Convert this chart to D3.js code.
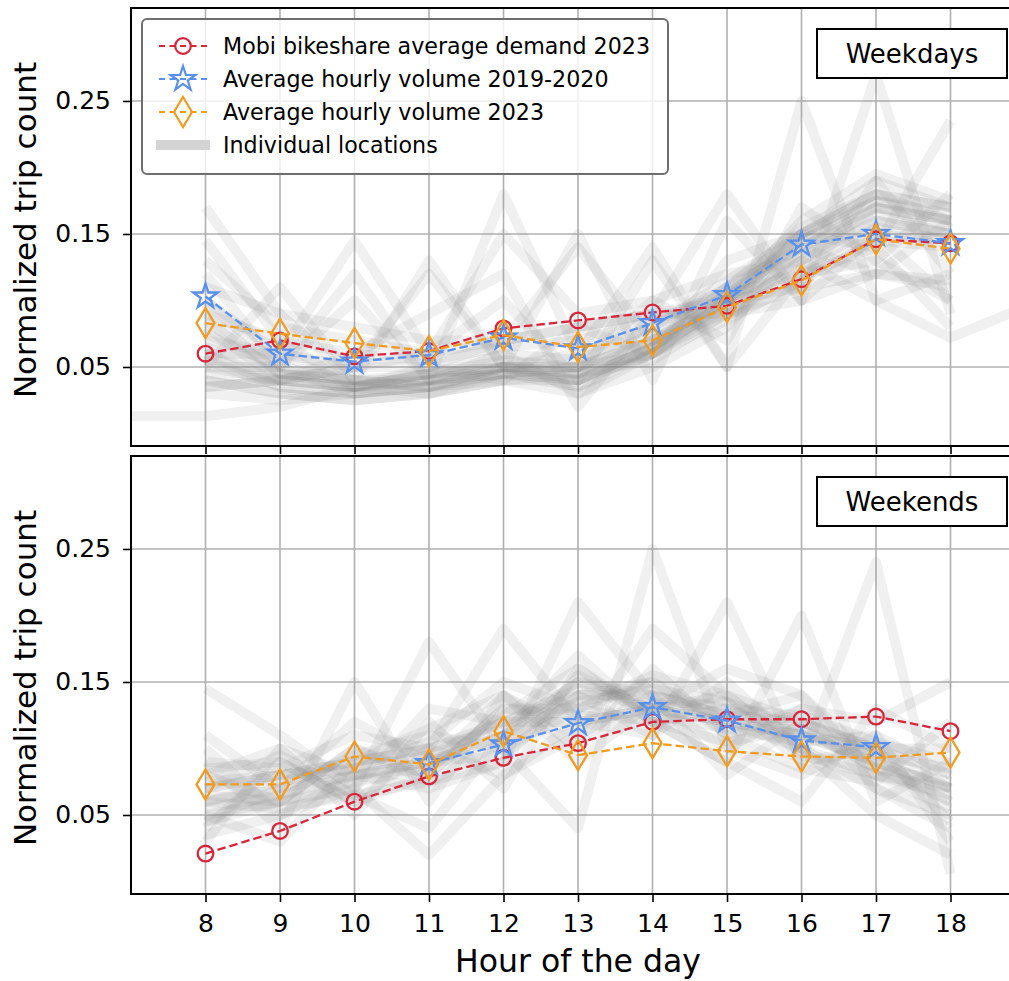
<!DOCTYPE html>
<html>
<head>
<meta charset="utf-8">
<script src="https://cdn.jsdelivr.net/npm/d3@7"></script>
<style>
  body { margin: 0; background: #fff; }
  svg { display: block; font-family: "DejaVu Sans", sans-serif; }
</style>
</head>
<body>
<svg id="chart" width="1009" height="981"></svg>
<script>
// ---- data ----
const hours = [8, 9, 10, 11, 12, 13, 14, 15, 16, 17, 18];
const locHours = [7, 8, 9, 10, 11, 12, 13, 14, 15, 16, 17, 18, 19];
const yTicks = [0.05, 0.15, 0.25];

// weekdays averages
const wdMobi = [0.060, 0.070, 0.058, 0.062, 0.079, 0.085, 0.091, 0.096, 0.116, 0.146, 0.143];
const wdVol1920 = [0.103, 0.060, 0.054, 0.059, 0.072, 0.064, 0.083, 0.104, 0.142, 0.150, 0.143];
const wdVol2023 = [0.083, 0.075, 0.068, 0.062, 0.074, 0.065, 0.070, 0.095, 0.115, 0.146, 0.139];

// weekends averages
const weMobi = [0.021, 0.038, 0.060, 0.079, 0.093, 0.104, 0.120, 0.122, 0.122, 0.124, 0.113];
const weVol1920 = [null, null, null, 0.089, 0.103, 0.119, 0.131, 0.121, 0.106, 0.101, null];
const weVol2023 = [0.073, 0.073, 0.094, 0.088, 0.113, 0.095, 0.104, 0.098, 0.094, 0.093, 0.097];

// individual locations (hours 7..19, null = no value)
const wdLocations = [
  [null, 0.170, 0.090, 0.040, 0.035, 0.045, 0.040, 0.060, 0.100, 0.130, 0.170, 0.160, null],
  [null, 0.145, 0.070, 0.035, 0.030, 0.040, 0.045, 0.055, 0.090, 0.130, 0.160, 0.150, null],
  [null, 0.120, 0.050, 0.030, 0.035, 0.050, 0.040, 0.065, 0.105, 0.140, 0.170, 0.155, null],
  [null, 0.090, 0.045, 0.035, 0.040, 0.045, 0.050, 0.070, 0.100, 0.145, 0.175, 0.165, null],
  [null, 0.060, 0.035, 0.030, 0.035, 0.050, 0.045, 0.060, 0.095, 0.150, 0.190, 0.170, null],
  [null, 0.040, 0.030, 0.025, 0.030, 0.045, 0.035, 0.065, 0.110, 0.155, 0.180, 0.160, null],
  [null, 0.035, 0.040, 0.035, 0.045, 0.055, 0.050, 0.075, 0.110, 0.140, 0.165, 0.150, null],
  [null, 0.070, 0.060, 0.145, 0.060, 0.100, 0.040, 0.130, 0.050, 0.120, 0.140, 0.080, null],
  [null, 0.050, 0.110, 0.040, 0.130, 0.050, 0.150, 0.040, 0.160, 0.100, 0.150, 0.100, null],
  [null, 0.100, 0.050, 0.100, 0.040, 0.180, 0.060, 0.140, 0.050, 0.250, 0.100, 0.120, null],
  [null, 0.080, 0.040, 0.060, 0.090, 0.120, 0.020, 0.090, 0.180, 0.100, 0.270, 0.090, null],
  [null, 0.110, 0.090, 0.080, 0.070, 0.070, 0.080, 0.090, 0.100, 0.110, 0.120, 0.115, null],
  [null, 0.050, 0.040, 0.050, 0.060, 0.150, 0.090, 0.100, 0.120, 0.130, 0.100, 0.072, 0.095],
  [0.013, 0.013, 0.020, 0.035, 0.045, 0.050, 0.060, 0.080, 0.110, 0.150, 0.180, 0.170, null],
  [null, 0.065, 0.045, 0.040, 0.040, 0.050, 0.050, 0.070, 0.100, 0.135, 0.160, 0.150, null],
  [null, 0.075, 0.050, 0.040, 0.035, 0.045, 0.040, 0.065, 0.095, 0.125, 0.155, 0.145, null],
  [null, 0.055, 0.035, 0.030, 0.040, 0.050, 0.045, 0.070, 0.105, 0.145, 0.170, 0.160, null],
  [null, 0.040, 0.030, 0.025, 0.030, 0.040, 0.040, 0.065, 0.100, 0.160, 0.195, 0.175, null],
  [null, 0.090, 0.070, 0.060, 0.055, 0.065, 0.070, 0.085, 0.105, 0.120, 0.130, 0.100, null],
  [null, 0.130, 0.080, 0.070, 0.060, 0.070, 0.080, 0.090, 0.090, 0.100, 0.120, 0.110, null],
  [null, 0.060, 0.060, 0.035, 0.050, 0.040, 0.080, 0.060, 0.130, 0.150, 0.140, 0.235, null],
  [null, 0.035, 0.040, 0.050, 0.120, 0.050, 0.050, 0.100, 0.070, 0.170, 0.130, 0.180, null],
  [null, 0.100, 0.060, 0.050, 0.050, 0.070, 0.140, 0.070, 0.090, 0.110, 0.190, 0.120, null],
  [null, 0.050, 0.050, 0.120, 0.040, 0.060, 0.030, 0.050, 0.080, 0.140, 0.120, 0.160, null],
  [null, 0.045, 0.040, 0.035, 0.040, 0.045, 0.050, 0.060, 0.090, 0.120, 0.150, 0.145, null],
  [null, 0.085, 0.045, 0.040, 0.045, 0.050, 0.035, 0.060, 0.085, 0.115, 0.145, 0.140, null],
  [null, 0.060, 0.040, 0.035, 0.045, 0.060, 0.055, 0.080, 0.115, 0.150, 0.175, 0.160, null],
  [null, 0.030, 0.025, 0.030, 0.035, 0.040, 0.030, 0.060, 0.100, 0.150, 0.180, 0.170, null]
];

const weLocations = [
  [null, 0.145, 0.110, 0.070, 0.020, 0.080, 0.120, 0.130, 0.120, 0.110, 0.090, 0.070, null],
  [null, 0.070, 0.080, 0.090, 0.100, 0.120, 0.140, 0.140, 0.130, 0.110, 0.090, 0.060, null],
  [null, 0.060, 0.070, 0.080, 0.090, 0.110, 0.150, 0.130, 0.140, 0.120, 0.100, 0.080, null],
  [null, 0.050, 0.060, 0.100, 0.080, 0.130, 0.130, 0.150, 0.120, 0.100, 0.080, 0.070, null],
  [null, 0.090, 0.040, 0.150, 0.060, 0.140, 0.100, 0.160, 0.110, 0.130, 0.070, 0.050, null],
  [null, 0.030, 0.100, 0.050, 0.120, 0.070, 0.160, 0.120, 0.090, 0.200, 0.060, 0.090, null],
  [null, 0.080, 0.060, 0.070, 0.180, 0.100, 0.040, 0.250, 0.100, 0.080, 0.110, 0.030, null],
  [null, 0.040, 0.090, 0.060, 0.100, 0.190, 0.120, 0.110, 0.210, 0.090, 0.240, 0.006, null],
  [null, 0.100, 0.050, 0.080, 0.070, 0.090, 0.210, 0.140, 0.080, 0.120, 0.100, 0.100, null],
  [null, 0.060, 0.075, 0.085, 0.095, 0.120, 0.145, 0.130, 0.120, 0.110, 0.100, 0.070, null],
  [null, 0.075, 0.080, 0.090, 0.100, 0.115, 0.150, 0.140, 0.125, 0.120, 0.095, 0.085, null],
  [null, 0.055, 0.065, 0.080, 0.090, 0.110, 0.135, 0.145, 0.135, 0.115, 0.085, 0.060, null],
  [null, 0.065, 0.060, 0.075, 0.085, 0.125, 0.160, 0.125, 0.115, 0.105, 0.110, 0.080, null],
  [null, 0.045, 0.070, 0.095, 0.110, 0.100, 0.130, 0.155, 0.140, 0.095, 0.080, 0.065, null],
  [null, 0.085, 0.090, 0.060, 0.080, 0.130, 0.125, 0.120, 0.130, 0.125, 0.105, 0.090, null],
  [null, 0.110, 0.070, 0.120, 0.090, 0.095, 0.140, 0.110, 0.150, 0.100, 0.070, 0.040, null],
  [null, 0.050, 0.030, 0.090, 0.115, 0.140, 0.090, 0.135, 0.100, 0.130, 0.120, 0.150, null],
  [null, 0.070, 0.095, 0.065, 0.040, 0.110, 0.170, 0.120, 0.090, 0.060, 0.130, 0.100, null],
  [null, 0.090, 0.085, 0.110, 0.100, 0.080, 0.110, 0.190, 0.140, 0.100, 0.050, 0.020, null],
  [null, 0.035, 0.050, 0.070, 0.130, 0.120, 0.120, 0.130, 0.160, 0.140, 0.090, 0.070, null],
  [null, 0.060, 0.055, 0.065, 0.075, 0.105, 0.140, 0.150, 0.110, 0.085, 0.075, 0.120, null],
  [null, 0.080, 0.100, 0.080, 0.085, 0.140, 0.110, 0.140, 0.125, 0.140, 0.080, 0.055, null],
  [null, 0.045, 0.060, 0.100, 0.075, 0.090, 0.155, 0.130, 0.135, 0.090, 0.100, 0.045, null],
  [null, 0.070, 0.080, 0.085, 0.105, 0.150, 0.130, 0.120, 0.105, 0.115, 0.085, 0.075, null]
];

const seriesNames = ["Mobi bikeshare average demand 2023", "Average hourly volume 2019-2020", "Average hourly volume 2023"];
const seriesColors = ["#d9253a", "#5790ee", "#f29b1f"];
const seriesMarkers = ["circle", "star", "diamond"];

// ---- layout ----
const svg = d3.select("#chart");
const left = 131, right = 1030;
const x = d3.scaleLinear().domain([7, 19]).range([left, left + 12 * 74.5]);

const panels = [
  { name: "Weekdays", top: 8, bottom: 446, series: [wdMobi, wdVol1920, wdVol2023], locs: wdLocations },
  { name: "Weekends", top: 456, bottom: 894, series: [weMobi, weVol1920, weVol2023], locs: weLocations }
];

function markerPath(type) {
  if (type === "circle") return d3.symbol(d3.symbolCircle, Math.PI * 7.8 * 7.8)();
  if (type === "star") return d3.symbol(d3.symbolStar, 190)();
  return "M0,-15L9,0L0,15L-9,0Z"; // thin diamond
}

panels.forEach((p, pi) => {
  const y = d3.scaleLinear().domain([-0.0094, 0.3199]).range([p.bottom, p.top]);
  const g = svg.append("g");

  const clipId = "clip" + pi;
  svg.append("defs").append("clipPath").attr("id", clipId)
    .append("rect").attr("x", left).attr("y", p.top).attr("width", right - left).attr("height", p.bottom - p.top);

  // grid
  g.append("g").selectAll("line").data(hours).join("line")
    .attr("x1", d => x(d)).attr("x2", d => x(d))
    .attr("y1", p.top).attr("y2", p.bottom)
    .attr("stroke", "#b0b0b0").attr("stroke-width", 1.6);
  g.append("g").selectAll("line").data(yTicks).join("line")
    .attr("x1", left).attr("x2", right)
    .attr("y1", d => y(d)).attr("y2", d => y(d))
    .attr("stroke", "#b0b0b0").attr("stroke-width", 1.6);

  const plot = g.append("g").attr("clip-path", `url(#${clipId})`);

  // individual locations
  const locLine = d3.line()
    .defined(d => d != null)
    .x((d, i) => x(locHours[i]))
    .y(d => y(d));
  plot.append("g").selectAll("path").data(p.locs).join("path")
    .attr("d", locLine)
    .attr("fill", "none")
    .attr("stroke", "#808080")
    .attr("stroke-opacity", 0.12)
    .attr("stroke-width", 10)
    .attr("stroke-linejoin", "round");

  // averages
  const avgLine = d3.line()
    .defined(d => d != null)
    .x((d, i) => x(hours[i]))
    .y(d => y(d));
  p.series.forEach((vals, si) => {
    const sg = plot.append("g");
    sg.append("path")
      .attr("d", avgLine(vals))
      .attr("fill", "none")
      .attr("stroke", seriesColors[si])
      .attr("stroke-width", 2.3)
      .attr("stroke-dasharray", "8.5,4");
    sg.selectAll("path.m").data(vals.map((v, i) => ({ h: hours[i], v })).filter(d => d.v != null))
      .join("path").attr("class", "m")
      .attr("transform", d => `translate(${x(d.h)},${y(d.v)})`)
      .attr("d", markerPath(seriesMarkers[si]))
      .attr("fill", "none")
      .attr("stroke", seriesColors[si])
      .attr("stroke-width", 2.3);
  });

  // axes
  const yAxis = d3.axisLeft(y).tickValues(yTicks).tickFormat(d3.format(".2f")).tickSize(8).tickPadding(12);
  const yg = g.append("g").attr("transform", `translate(${left},0)`).call(yAxis);
  yg.select(".domain").remove();
  yg.selectAll(".tick line").attr("stroke", "#000").attr("stroke-width", 1.6);
  yg.selectAll("text").attr("font-size", 25).attr("fill", "#000").attr("font-family", "DejaVu Sans");

  const xAxis = d3.axisBottom(x).tickValues(hours).tickSize(8).tickPadding(12)
    .tickFormat(pi === 1 ? d3.format("d") : () => "");
  const xg = g.append("g").attr("transform", `translate(0,${p.bottom})`).call(xAxis);
  xg.select(".domain").remove();
  xg.selectAll(".tick line").attr("stroke", "#000").attr("stroke-width", 1.6);
  xg.selectAll("text").attr("font-size", 25).attr("fill", "#000").attr("font-family", "DejaVu Sans");

  // frame
  g.append("rect")
    .attr("x", left).attr("y", p.top).attr("width", right - left).attr("height", p.bottom - p.top)
    .attr("fill", "none").attr("stroke", "#000").attr("stroke-width", 2);

  // y label
  g.append("text")
    .attr("transform", `translate(36,${(p.top + p.bottom) / 2 + 3}) rotate(-90)`)
    .attr("text-anchor", "middle")
    .attr("font-size", 31)
    .text("Normalized trip count");

  // panel label box
  const box = g.append("g");
  box.append("rect")
    .attr("x", 817).attr("y", p.top + 21).attr("width", 190).attr("height", 49)
    .attr("fill", "#fff").attr("stroke", "#000").attr("stroke-width", 2);
  box.append("text")
    .attr("x", 912).attr("y", p.top + 45.5)
    .attr("text-anchor", "middle").attr("dominant-baseline", "central")
    .attr("font-size", 26)
    .text(p.name);
});

// x label
svg.append("text")
  .attr("x", 578).attr("y", 972)
  .attr("text-anchor", "middle")
  .attr("font-size", 31.5)
  .text("Hour of the day");

// legend
const lg = svg.append("g");
lg.append("rect")
  .attr("x", 142).attr("y", 19).attr("width", 526).attr("height", 155).attr("rx", 5)
  .attr("fill", "#fff").attr("fill-opacity", 0.8)
  .attr("stroke", "#6e6e6e").attr("stroke-width", 2);
seriesNames.forEach((name, i) => {
  const cy = 46 + i * 33;
  lg.append("line")
    .attr("x1", 159).attr("x2", 208).attr("y1", cy).attr("y2", cy)
    .attr("stroke", seriesColors[i]).attr("stroke-width", 2.2).attr("stroke-dasharray", "6,4.5");
  lg.append("path")
    .attr("transform", `translate(183,${cy})`)
    .attr("d", markerPath(seriesMarkers[i]))
    .attr("fill", "#fff").attr("fill-opacity", 0)
    .attr("stroke", seriesColors[i]).attr("stroke-width", 2.2);
  lg.append("text")
    .attr("x", 223).attr("y", cy).attr("dominant-baseline", "central")
    .attr("font-size", 22.2)
    .text(name);
});
lg.append("line")
  .attr("x1", 156).attr("x2", 210).attr("y1", 145).attr("y2", 145)
  .attr("stroke", "#d4d4d4").attr("stroke-width", 10);
lg.append("text")
  .attr("x", 223).attr("y", 145).attr("dominant-baseline", "central")
  .attr("font-size", 22.2)
  .text("Individual locations");
</script>
</body>
</html>
